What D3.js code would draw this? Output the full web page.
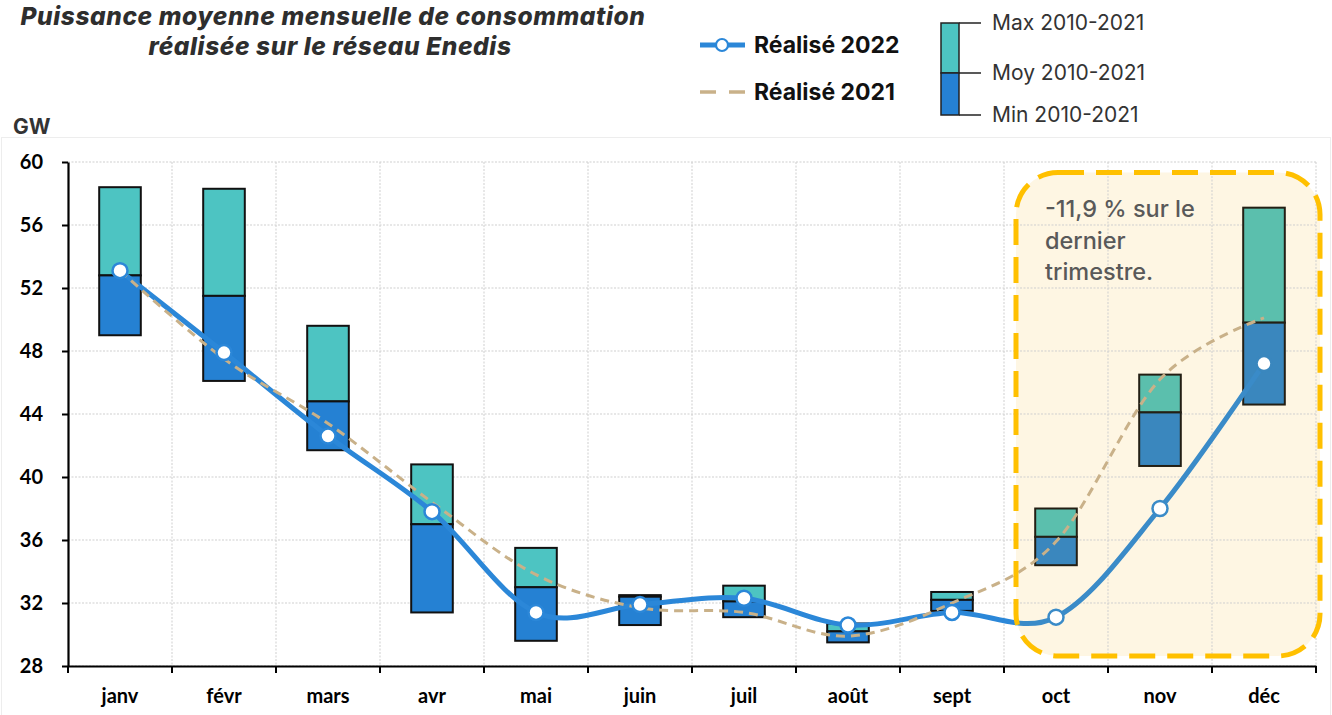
<!DOCTYPE html>
<html lang="fr">
<head>
<meta charset="utf-8">
<script src="https://cdn.jsdelivr.net/npm/d3@7"></script>
<style>
  html, body { margin: 0; padding: 0; background: #fff; }
  svg { display: block; }
</style>
</head>
<body>
<svg id="chart" width="1332" height="715"></svg>
<script>
// Monthly average consumption power on the Enedis network (GW)
const months = ["janv", "févr", "mars", "avr", "mai", "juin", "juil", "août", "sept", "oct", "nov", "déc"];
const max2010_2021 = [58.4, 58.3, 49.6, 40.8, 35.5, 32.5, 33.1, 30.7, 32.7, 38.0, 46.5, 57.1];
const moy2010_2021 = [52.8, 51.5, 44.8, 37.0, 33.0, 32.4, 32.1, 30.2, 32.2, 36.2, 44.1, 49.8];
const min2010_2021 = [49.0, 46.1, 41.7, 31.4, 29.6, 30.6, 31.1, 29.5, 31.5, 34.4, 40.7, 44.6];
const realise2022 = [53.1, 47.9, 42.6, 37.8, 31.4, 31.9, 32.3, 30.6, 31.4, 31.1, 38.0, 47.2];
const realise2021 = [53.1, 47.5, 43.4, 38.4, 33.8, 31.7, 31.4, 29.9, 32.0, 35.9, 46.2, 50.1];
const yTicks = [28, 32, 36, 40, 44, 48, 52, 56, 60];
const lastQuarter = ["oct", "nov", "déc"];
const titleLines = ["Puissance moyenne mensuelle de consommation", "réalisée sur le réseau Enedis"];
const noteLines = ["-11,9 % sur le", "dernier", "trimestre."];

const svg = d3.select("#chart");

const x = d3.scaleBand().domain(months).range([68, 1316]).padding(0);
const y = d3.scaleLinear().domain([28, 60]).range([666, 162]);
const cx = m => x(m) + x.bandwidth() / 2;
const barW = x.bandwidth() * 0.4;

const colors = {
  maxFill: "#4DC4C2", minFill: "#2581D3",
  maxFillQ: "#5BBFAD", minFillQ: "#3A87BE",
  line22: "#2B87D8", line22Q: "#3A8BC8",
  line21: "#C9B189", grid: "#CFCFCF", text: "#333333"
};

// chart-area frame
svg.append("rect")
  .attr("x", 1.5).attr("y", 137.5).attr("width", 1329).attr("height", 590)
  .attr("fill", "none").attr("stroke", "#EDEDED").attr("stroke-width", 1);

// title (two separate lines)
titleLines.forEach((t, i) => {
  svg.append("text")
    .attr("x", i === 0 ? 333 : 330).attr("y", 25 + i * 30)
    .attr("text-anchor", "middle")
    .attr("font-family", "Inter, 'Open Sans', sans-serif")
    .attr("font-style", "italic").attr("font-weight", 800)
    .attr("font-size", 24.5).attr("letter-spacing", 0.6).attr("fill", "#2E2E2E")
    .text(t);
});

// unit label
svg.append("text").attr("x", 13).attr("y", 134)
  .attr("font-family", "Inter, sans-serif").attr("font-weight", 700)
  .attr("font-size", 21).attr("fill", colors.text).text("GW");

// annotation box geometry (last quarter)
const boxX0 = x("oct") + 12, boxX1 = x.range()[1] + 4;
const boxY0 = y(60) + 10.5, boxY1 = y(28) - 10;
const boxR = 42;

// cream background of the annotation box
svg.append("rect")
  .attr("x", boxX0).attr("y", boxY0)
  .attr("width", boxX1 - boxX0).attr("height", boxY1 - boxY0)
  .attr("rx", boxR).attr("ry", boxR)
  .attr("fill", "#FEF6E3");

// gridlines
const grid = svg.append("g");
grid.selectAll("line.h").data(yTicks).join("line")
  .attr("x1", 68).attr("x2", 1316)
  .attr("y1", d => y(d)).attr("y2", d => y(d))
  .attr("stroke", colors.grid).attr("stroke-width", 1).attr("stroke-dasharray", "2,1.5");
const bounds = months.map(m => x(m)).concat([x.range()[1]]);
grid.selectAll("line.v").data(bounds.slice(1)).join("line")
  .attr("x1", d => d).attr("x2", d => d)
  .attr("y1", y(60)).attr("y2", y(28))
  .attr("stroke", colors.grid).attr("stroke-width", 1).attr("stroke-dasharray", "2,1.5");

// min/moy/max bars
const inQ = m => lastQuarter.includes(m);
const bars = svg.append("g");
months.forEach((m, i) => {
  const q = inQ(m);
  bars.append("rect")
    .attr("x", cx(m) - barW / 2).attr("width", barW)
    .attr("y", y(max2010_2021[i])).attr("height", y(moy2010_2021[i]) - y(max2010_2021[i]))
    .attr("fill", q ? colors.maxFillQ : colors.maxFill)
    .attr("stroke", q ? "#231F14" : "#111").attr("stroke-width", 2);
  bars.append("rect")
    .attr("x", cx(m) - barW / 2).attr("width", barW)
    .attr("y", y(moy2010_2021[i])).attr("height", y(min2010_2021[i]) - y(moy2010_2021[i]))
    .attr("fill", q ? colors.minFillQ : colors.minFill)
    .attr("stroke", q ? "#231F14" : "#111").attr("stroke-width", 2);
});

// clip paths for line colouring inside/outside the last-quarter box
const defs = svg.append("defs");
defs.append("clipPath").attr("id", "inBox").append("rect")
  .attr("x", boxX0).attr("y", boxY0).attr("width", boxX1 - boxX0).attr("height", boxY1 - boxY0)
  .attr("rx", boxR).attr("ry", boxR);
defs.append("mask").attr("id", "outBox").call(mk => {
  mk.append("rect").attr("x", 0).attr("y", 0).attr("width", 1332).attr("height", 715).attr("fill", "#fff");
  mk.append("rect").attr("x", boxX0).attr("y", boxY0).attr("width", boxX1 - boxX0).attr("height", boxY1 - boxY0)
    .attr("rx", boxR).attr("ry", boxR).attr("fill", "#000");
});

const line = d3.line().x((d, i) => cx(months[i])).y(d => y(d)).curve(d3.curveCardinal.tension(0));

// 2022 line
svg.append("path").datum(realise2022).attr("d", line)
  .attr("fill", "none").attr("stroke", colors.line22).attr("stroke-width", 5)
  .attr("stroke-linecap", "round").attr("mask", "url(#outBox)");
svg.append("path").datum(realise2022).attr("d", line)
  .attr("fill", "none").attr("stroke", colors.line22Q).attr("stroke-width", 5)
  .attr("clip-path", "url(#inBox)");

// 2021 dashed line
svg.append("path").datum(realise2021).attr("d", line)
  .attr("fill", "none").attr("stroke", colors.line21).attr("stroke-width", 3)
  .attr("stroke-dasharray", "9,6");

// 2022 markers
svg.append("g").selectAll("circle").data(realise2022).join("circle")
  .attr("cx", (d, i) => cx(months[i])).attr("cy", d => y(d)).attr("r", 7.5)
  .attr("fill", "#fff")
  .attr("stroke", (d, i) => i === 11 ? colors.minFillQ : (inQ(months[i]) ? colors.line22Q : colors.line22))
  .attr("stroke-width", 2.5);

// dashed rounded border of the annotation box
svg.append("rect")
  .attr("x", boxX0).attr("y", boxY0)
  .attr("width", boxX1 - boxX0).attr("height", boxY1 - boxY0)
  .attr("rx", boxR).attr("ry", boxR)
  .attr("fill", "none").attr("stroke", "#FFC000").attr("stroke-width", 5)
  .attr("stroke-dasharray", "26,12");

// annotation text
const note = svg.append("text")
  .attr("font-family", "Inter, sans-serif").attr("font-weight", 500)
  .attr("font-size", 23.5).attr("fill", "#595959");
noteLines.forEach((t, i) => note.append("tspan").attr("x", 1045).attr("y", 217 + i * 31.5).text(t));

// y axis
const yAxis = svg.append("g").attr("transform", "translate(68,0)")
  .call(d3.axisLeft(y).tickValues(yTicks).tickSize(6).tickSizeOuter(0).tickPadding(19));
yAxis.select(".domain").attr("stroke", "#000").attr("stroke-width", 2.2);
yAxis.selectAll(".tick line").attr("stroke", "#000").attr("stroke-width", 2);
yAxis.selectAll(".tick text")
  .attr("font-family", "Lato, sans-serif").attr("font-weight", 700)
  .attr("font-size", 20).attr("fill", "#000");

// x axis
const xAxis = svg.append("g").attr("transform", "translate(0,666)")
  .call(d3.axisBottom(x).tickSize(0).tickSizeOuter(0).tickPadding(23));
xAxis.select(".domain").attr("stroke", "#000").attr("stroke-width", 2.2);
xAxis.selectAll(".tick text")
  .attr("font-family", "Lato, sans-serif").attr("font-weight", 700)
  .attr("font-size", 20).attr("fill", "#000");
xAxis.selectAll("line.bound").data(bounds).join("line").attr("class", "bound")
  .attr("x1", d => d).attr("x2", d => d).attr("y1", 0).attr("y2", 7)
  .attr("stroke", "#000").attr("stroke-width", 2);

// legend: lines
const lg = svg.append("g");
lg.append("line").attr("x1", 700).attr("x2", 745).attr("y1", 45).attr("y2", 45)
  .attr("stroke", colors.line22).attr("stroke-width", 5);
lg.append("circle").attr("cx", 722).attr("cy", 45).attr("r", 6)
  .attr("fill", "#fff").attr("stroke", colors.line22).attr("stroke-width", 2.2);
lg.append("text").attr("x", 754).attr("y", 53)
  .attr("font-family", "Inter, sans-serif").attr("font-weight", 700)
  .attr("font-size", 23).attr("fill", "#111").text("Réalisé 2022");
lg.append("line").attr("x1", 700).attr("x2", 745).attr("y1", 92).attr("y2", 92)
  .attr("stroke", colors.line21).attr("stroke-width", 3.5).attr("stroke-dasharray", "16,13");
lg.append("text").attr("x", 754).attr("y", 100)
  .attr("font-family", "Inter, sans-serif").attr("font-weight", 700)
  .attr("font-size", 23).attr("fill", "#111").text("Réalisé 2021");

// legend: bar key
const kb = svg.append("g");
kb.append("rect").attr("x", 941).attr("y", 23).attr("width", 18).attr("height", 50)
  .attr("fill", colors.maxFill).attr("stroke", "#222").attr("stroke-width", 1.5);
kb.append("rect").attr("x", 941).attr("y", 73).attr("width", 18).attr("height", 42)
  .attr("fill", colors.minFill).attr("stroke", "#222").attr("stroke-width", 1.5);
const keyRows = [["Max 2010-2021", 23], ["Moy 2010-2021", 73], ["Min 2010-2021", 115]];
keyRows.forEach(([t, yy]) => {
  kb.append("line").attr("x1", 959).attr("x2", 981).attr("y1", yy).attr("y2", yy)
    .attr("stroke", "#222").attr("stroke-width", 1.5);
  kb.append("text").attr("x", 992).attr("y", yy + 7)
    .attr("font-family", "Inter, sans-serif").attr("font-weight", 400)
    .attr("font-size", 21).attr("fill", colors.text).text(t);
});
</script>
</body>
</html>
